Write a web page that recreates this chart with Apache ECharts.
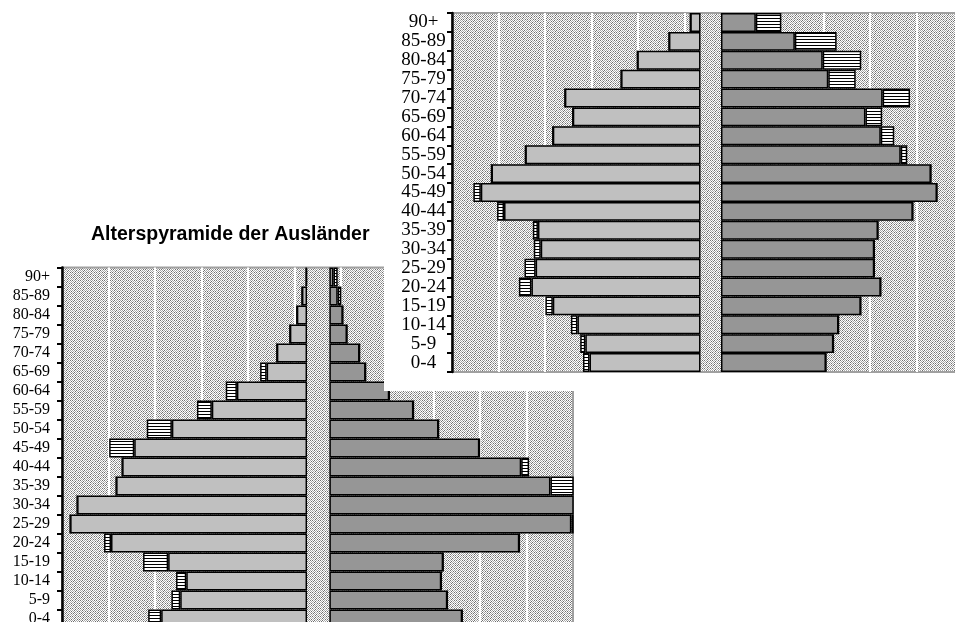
<!DOCTYPE html>
<html>
<head>
<meta charset="utf-8">
<script src="https://cdn.jsdelivr.net/npm/echarts@6.0.0/dist/echarts.min.js"></script>
<style>
  html, body { margin: 0; padding: 0; overflow: hidden; background: #fff; width: 955px; height: 622px; }
  #c1 { position: absolute; left: 0; top: 0; width: 955px; height: 640px; }
  #c2 { position: absolute; left: 384px; top: 0; width: 590px; height: 391px; background: #fff; }
</style>
</head>
<body>
<div id="c1"></div>
<div id="c2"></div>
<script>
// ---- data (age groups, bottom to top) ----
const ages = ['0-4','5-9','10-14','15-19','20-24','25-29','30-34','35-39','40-44','45-49','50-54','55-59','60-64','65-69','70-74','75-79','80-84','85-89','90+'];

// Pyramid of foreigners (lower-left chart)
const auslLeftMain   = [31.4, 27.3, 26.0, 29.9, 42.2, 51.0, 49.5, 41.1, 39.8, 37.2, 29.1, 20.5, 15.1, 8.7, 6.5, 3.7, 2.2, 1.1, 0.2];
const auslLeftExtra  = [2.8, 1.9, 2.2, 5.4, 1.5, 0, 0, 0, 0, 5.4, 5.4, 3.2, 2.4, 1.4, 0, 0, 0, 0, 0];
const auslRightMain  = [28.6, 25.4, 24.1, 24.5, 40.9, 52.1, 55.0, 47.6, 41.3, 32.3, 23.5, 18.1, 12.9, 7.8, 6.5, 3.8, 2.9, 1.8, 0.9];
const auslRightExtra = [0, 0, 0, 0, 0, 3.0, 0, 6.0, 1.7, 0, 0, 0, 0, 0, 0, 0, 0, 0.8, 0.9];

// Upper-right pyramid
const topLeftMain    = [23.9, 24.8, 26.5, 31.8, 36.4, 35.5, 34.4, 35.0, 42.3, 47.3, 45.0, 37.7, 31.8, 27.5, 29.2, 17.1, 13.6, 6.8, 2.2];
const topLeftExtra   = [1.4, 1.1, 1.4, 1.6, 2.7, 2.4, 1.5, 1.1, 1.5, 1.6, 0, 0, 0, 0, 0, 0, 0, 0, 0];
const topRightMain   = [22.6, 24.2, 25.3, 30.1, 34.4, 33.0, 33.0, 33.8, 41.3, 46.5, 45.2, 38.7, 34.4, 31.1, 34.8, 23.1, 21.9, 15.9, 7.5];
const topRightExtra  = [0, 0, 0, 0, 0, 0, 0, 0, 0, 0, 0, 1.4, 2.9, 3.6, 5.9, 5.9, 8.3, 9.0, 5.5];

const titleText = 'Alterspyramide der Ausländer';

// ---- patterns ----
function ditherPattern() {
  const rows = [
    'd.g.g.d.',
    '.g.d.g.g',
    'g.d.g.g.',
    '.g.g.d.d',
    'g.d.g.g.',
    '.d.g.g.d',
    'g.g.d.g.',
    '.g.d.g.g'
  ];
  const col = { '.': '#ffffff', 'g': '#a8a8a8', 'd': '#6e6e6e' };
  const c = document.createElement('canvas'); c.width = 8; c.height = 8;
  const ctx = c.getContext('2d');
  for (let y = 0; y < 8; y++) for (let x = 0; x < 8; x++) { ctx.fillStyle = col[rows[y][x]]; ctx.fillRect(x, y, 1, 1); }
  return { image: c, repeat: 'repeat' };
}
function hatchPattern() {
  const c = document.createElement('canvas'); c.width = 4; c.height = 3;
  const ctx = c.getContext('2d');
  ctx.fillStyle = '#ffffff'; ctx.fillRect(0, 0, 4, 3);
  ctx.fillStyle = '#000000'; ctx.fillRect(0, 0, 4, 1);
  return { image: c, repeat: 'repeat' };
}

function pyramidOption(o) {
  const offset = o.leftMain.map((v, i) => +(o.center - v - o.leftExtra[i]).toFixed(2));
  const gap = ages.map(() => o.gapWidth);
  const border = { borderColor: '#000', borderWidth: 1.5 };
  const base = { type: 'bar', stack: 'p', barCategoryGap: '0%', silent: true, clip: true, animation: false };
  const opt = {
    animation: false,
    grid: {
      left: o.grid.left, top: o.grid.top, width: o.grid.width, height: o.grid.height,
      show: true, backgroundColor: ditherPattern(), borderColor: '#a0a0a0', borderWidth: 2
    },
    xAxis: {
      type: 'value', min: 0, max: 110, interval: 10,
      axisLine: { show: false }, axisTick: { show: false }, axisLabel: { show: false },
      splitLine: { show: true, showMinLine: false, showMaxLine: false, lineStyle: { color: '#ffffff', width: 2 } }
    },
    yAxis: {
      type: 'category', data: ages,
      axisLine: { show: true, lineStyle: { color: '#000', width: 2.5 } },
      axisTick: { show: true, length: 5, lineStyle: { color: '#000', width: 2 } },
      axisLabel: {
        interval: 0, color: '#000', fontFamily: '"Liberation Serif", "Times New Roman", serif',
        fontSize: o.labelSize, margin: o.labelMargin, align: o.labelAlign
      },
      splitLine: { show: false }
    },
    series: [
      Object.assign({}, base, { name: 'offset', data: offset, itemStyle: { color: 'rgba(0,0,0,0)', borderWidth: 0 } }),
      Object.assign({}, base, { name: 'leftExtra', data: o.leftExtra, itemStyle: Object.assign({ color: hatchPattern() }, border) }),
      Object.assign({}, base, { name: 'leftMain', data: o.leftMain, itemStyle: Object.assign({ color: '#c0c0c0' }, border) }),
      Object.assign({}, base, { name: 'gap', data: gap, itemStyle: { color: 'rgba(0,0,0,0)', borderWidth: 0 } }),
      Object.assign({}, base, { name: 'rightMain', data: o.rightMain, itemStyle: Object.assign({ color: '#969696' }, border) }),
      Object.assign({}, base, { name: 'rightExtra', data: o.rightExtra, itemStyle: Object.assign({ color: hatchPattern() }, border) })
    ]
  };
  if (o.title) {
    opt.title = {
      text: o.title, left: o.titleLeft, top: o.titleTop, padding: 0,
      textStyle: { fontFamily: '"Liberation Sans", Arial, sans-serif', fontWeight: 'bold', fontSize: 19.5, color: '#000' }
    };
  }
  return opt;
}

const chart1 = echarts.init(document.getElementById('c1'), null, { renderer: 'canvas' });
chart1.setOption(pyramidOption({
  leftMain: auslLeftMain, leftExtra: auslLeftExtra, rightMain: auslRightMain, rightExtra: auslRightExtra,
  center: 52.75, gapWidth: 4.8,
  grid: { left: 62, top: 267.5, width: 511, height: 361 },
  labelSize: 16, labelMargin: 12, labelAlign: 'right',
  title: titleText, titleLeft: 91, titleTop: 225
}));

const chart2 = echarts.init(document.getElementById('c2'), null, { renderer: 'canvas' });
chart2.setOption(pyramidOption({
  leftMain: topLeftMain, leftExtra: topLeftExtra, rightMain: topRightMain, rightExtra: topRightExtra,
  center: 53.5, gapWidth: 4.4,
  grid: { left: 68, top: 13, width: 511, height: 359 },
  labelSize: 19, labelMargin: 28.5, labelAlign: 'center'
}));
</script>
</body>
</html>
